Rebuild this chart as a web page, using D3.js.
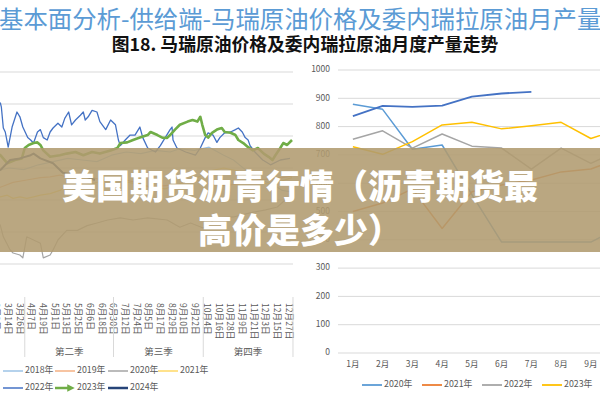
<!DOCTYPE html>
<html><head><meta charset="utf-8">
<script src="https://cdn.jsdelivr.net/npm/d3@7"></script>
<style>
html,body{margin:0;padding:0;background:#fff;overflow:hidden}
svg{display:block;font-family:"Noto Sans CJK SC","Noto Sans",sans-serif}
</style></head><body>
<svg id="c" width="600" height="400"></svg>
<script>
// ---------- texts ----------
const mainTitle = "基本面分析-供给端-马瑞原油价格及委内瑞拉原油月产量";
const subTitle = "图18. 马瑞原油价格及委内瑞拉原油月度产量走势";
const bannerLines = ["美国期货沥青行情（沥青期货最", "高价是多少）"];

// ---------- left chart: Merey price by day of year ----------
const leftTickLabels = ["1月1日","1月13日","1月25日","2月6日","2月18日","3月2日","3月14日","3月26日","4月7日","4月19日","5月1日","5月13日","5月25日","6月6日","6月18日","6月30日","7月12日","7月24日","8月5日","8月17日","8月29日","9月10日","9月22日","10月4日","10月16日","10月28日","11月9日","11月21日","12月3日","12月15日","12月27日"];
const quarterLabels = ["第一季","第二季","第三季","第四季"];
const leftYTicks = [0,20,40,60,80,100,120];
const leftYears = ["2018年","2019年","2020年","2021年","2022年","2023年","2024年"];
// [day of year, price]
const p2018 = [[60,58],[75,60],[90,59],[105,62],[120,64],[135,66],[150,65],[165,64],[180,68],[195,70],[210,69],[225,71],[240,70],[250,72],[265,71],[280,73],[295,68],[305,65],[315,60],[325,56],[335,52],[345,50],[355,46],[365,45]];
const p2019 = [[60,47],[66,48],[79,51],[93,52.5],[107,54],[117,54.4],[127,55.6],[134,54.4],[148,57],[160,54],[175,52],[190,53],[205,51],[220,48],[235,49],[250,50],[265,53],[280,50],[295,49],[310,50],[325,52],[340,53],[355,54],[365,55]];
const p2020 = [[60,30],[66,24],[69,17],[76,8.8],[79,6.9],[86,5.6],[89,3.8],[93,17],[100,15],[107,13],[110,3.8],[117,5.6],[120,8.8],[125,15],[134,21],[145,21],[155,24],[165,25.6],[176,27.5],[189,28.8],[202,27.5],[217,28.8],[237,27.5],[250,23],[261,25.6],[274,22.5],[288,28.8],[305,29.4],[322,32],[338,33.8],[350,35.6],[358,40],[365,43]];
const p2021 = [[60,43],[66,42],[73,43],[79,41],[86,42],[93,41],[100,42],[107,43],[117,44],[127,46],[134,49],[145,48],[160,50],[175,53],[190,52],[205,50],[220,48],[235,47],[250,50],[265,53],[280,58],[295,60],[310,58],[325,52],[340,50],[355,52],[365,54]];
const p2022 = [[60,98],[66,100.6],[67,98],[69,85],[71,82.5],[74,73],[78,85.6],[83,95],[86,92],[89,85.6],[94,79],[97,77.5],[100,75.6],[104,82.5],[107,84],[110,79],[114,77.5],[117,82.5],[120,85],[125,88],[129,85.6],[132,91],[136,95],[139,87],[143,90],[148,93],[151,95],[153,90],[156,92],[160,96],[165,95],[168,89],[174,84],[179,90],[184,87],[187,77.5],[189,74],[194,77.5],[199,80.6],[204,80.6],[209,85.6],[212,79],[217,72.5],[225,70],[230,74],[235,79],[240,84],[242,85.6],[243,77.5],[247,72.5],[256,70],[266,68],[271,72.5],[276,79],[279,82],[284,80.6],[288,76],[291,79],[296,82],[302,82.5],[307,84],[310,85],[314,82.5],[317,79],[320,77.5],[322,74],[327,70],[335,65],[343,62],[353,65],[363,66]];
const p2023 = [[60,70],[66,68],[73,63],[81,65],[88,66],[91,72.5],[95,74.4],[100,75.6],[104,76],[107,74.4],[110,71],[117,67],[127,68],[134,69],[143,70],[151,68],[160,70],[168,69],[179,71],[186,72.5],[189,75.6],[196,76],[202,77.5],[209,79],[217,80.6],[220,82.5],[227,80.6],[232,79],[237,78.8],[240,80.6],[245,84],[250,87],[258,89],[263,90],[268,89],[271,92],[273,87],[276,80.6],[279,79],[283,82],[288,84],[293,85],[296,82.5],[302,82],[307,80.6],[310,77.5],[315,75.6],[320,73],[325,71],[330,72.5],[336,69],[341,67],[345,65],[348,68],[353,72.5],[356,75.6],[360,74.4],[365,77.5]];
const p2024 = [[60,57],[66,58.8],[69,60.6],[76,65],[86,66],[97,68],[100,69],[107,66],[120,63],[130,57],[145,55.6],[155,54.4],[163,52.5]];
const leftSeries = [p2018,p2019,p2020,p2021,p2022,p2023,p2024];
const leftColors = ["#9dc3e6","#f4b183","#a5a5a5","#ffd966","#4472c4","#70ad47","#264478"];
const leftWidths = [1.2,1.2,1.2,1.2,1.3,2.6,2];

// ---------- right chart: Venezuela monthly output ----------
const months = ["1月","2月","3月","4月","5月","6月","7月","8月","9月","10月","11月","12月"];
const rightYTicks = [0,100,200,300,400,500,600,700,800,900,1000];
const rightYears = ["2020年","2021年","2022年","2023年","2024年"];
const o2020 = [879,861,720,735,560,392,392,392,392,445];
const o2021 = [500,530,580,440,570,594,611,640,650,690];
const o2022 = [755,785,724,774,731,724,650,724,670,720];
const o2023 = [729,702,747,806,815,792,803,815,758,792];
const o2024 = [837,873,870,874,906,917,923];
const rightSeries = [o2020,o2021,o2022,o2023,o2024];
const rightColors = ["#5b9bd5","#ed7d31","#a5a5a5","#ffc000","#4472c4"];

const svg = d3.select("#c");
const grid = "#d9d9d9", txt = "#595959";

// titles
svg.append("text").attr("x",-1).attr("y",28).attr("font-size",24.4).attr("fill","#5b9bd5").text(mainTitle);
svg.append("text").attr("x",305).attr("y",51).attr("text-anchor","middle").attr("font-size",17.8).attr("font-weight",700).attr("fill","#111").text(subTitle);

// ----- left chart -----
const day = d => new Date(2021,0,d);
const xL = d3.scaleTime().domain([day(1), day(365)]).range([-63, 292]);
const yL = d3.scaleLinear().domain([0,120]).range([264,72]);
const gL = svg.append("g");
gL.selectAll("line.g").data(leftYTicks).join("line")
  .attr("x1",-70).attr("x2",293).attr("y1",d=>yL(d)).attr("y2",d=>yL(d))
  .attr("stroke",grid).attr("stroke-width",1);

const parseLbl = s => { const m = s.match(/(\d+)月(\d+)日/); return new Date(2021,+m[1]-1,+m[2]); };
gL.selectAll("text.t").data(leftTickLabels).join("text")
  .attr("transform",d=>`translate(${xL(parseLbl(d))},303) rotate(90)`)
  .attr("dominant-baseline","middle").attr("font-size",8.6).attr("fill",txt).text(d=>d);
const qBounds = [day(1), new Date(2021,3,1), new Date(2021,6,1), new Date(2021,9,1), new Date(2022,0,1)];
gL.selectAll("line.q").data(qBounds).join("line")
  .attr("x1",d=>xL(d)).attr("x2",d=>xL(d)).attr("y1",297).attr("y2",357)
  .attr("stroke",grid).attr("stroke-width",1);
gL.selectAll("text.q").data(quarterLabels).join("text")
  .attr("x",(d,i)=>(xL(qBounds[i])+xL(qBounds[i+1]))/2).attr("y",355)
  .attr("text-anchor","middle").attr("font-size",9.5).attr("fill",txt).text(d=>d);

const defs = svg.append("defs");
defs.append("marker").attr("id","arr").attr("viewBox","0 0 10 10").attr("refX",5).attr("refY",5)
  .attr("markerWidth",3).attr("markerHeight",3).attr("orient","auto")
  .append("path").attr("d","M0,0L10,5L0,10z").attr("fill","#70ad47");

const lineL = d3.line().x(d=>xL(day(d[0]))).y(d=>yL(d[1]));
leftSeries.forEach((s,i)=>{
  gL.append("path").attr("d",lineL(s)).attr("fill","none")
    .attr("stroke",leftColors[i]).attr("stroke-width",leftWidths[i]).attr("stroke-linejoin","round");
});

// left legend
const legPos = [[3,371],[55,371],[108,371],[158,371],[3,388],[55,388],[108,388]];
leftYears.forEach((y,i)=>{
  const [lx,ly] = legPos[i];
  const ln = svg.append("line").attr("x1",lx).attr("x2",lx+20).attr("y1",ly).attr("y2",ly)
    .attr("stroke",leftColors[i]).attr("stroke-width", i>=5?2.5:1.5);
  if(i===5) ln.attr("x2",lx+16).attr("marker-end","url(#arr)");
  svg.append("text").attr("x",lx+22).attr("y",ly).attr("dominant-baseline","middle")
    .attr("font-size",8.8).attr("fill",txt).text(y);
});

// ----- right chart -----
const xR = d3.scaleBand().domain(months).range([338, 338+12*29.75]);
const yR = d3.scaleLinear().domain([0,1000]).range([353,70]);
const gR = svg.append("g");
gR.selectAll("line.g").data(rightYTicks).join("line")
  .attr("x1",338).attr("x2",700).attr("y1",d=>yR(d)).attr("y2",d=>yR(d))
  .attr("stroke",grid).attr("stroke-width",1);
gR.selectAll("text.y").data(rightYTicks).join("text")
  .attr("x",330).attr("y",d=>yR(d)).attr("text-anchor","end").attr("dominant-baseline","middle")
  .attr("font-size",8.5).attr("fill",txt).text(d=>d);
gR.selectAll("text.m").data(months).join("text")
  .attr("x",d=>xR(d)+xR.bandwidth()/2).attr("y",365).attr("text-anchor","middle").attr("dominant-baseline","middle")
  .attr("font-size",8.5).attr("fill",txt).text(d=>d);
const lineR = d3.line().x((d,i)=>xR(months[i])+xR.bandwidth()/2).y(d=>yR(d));
rightSeries.forEach((s,i)=>{
  gR.append("path").attr("d",lineR(s)).attr("fill","none").attr("stroke",rightColors[i])
    .attr("stroke-width",i===4?1.8:1.5).attr("stroke-linejoin","round");
});
rightYears.forEach((y,i)=>{
  const lx = 362 + i*60, ly = 385;
  svg.append("line").attr("x1",lx).attr("x2",lx+20).attr("y1",ly).attr("y2",ly)
    .attr("stroke",rightColors[i]).attr("stroke-width",1.8);
  svg.append("text").attr("x",lx+22).attr("y",ly).attr("dominant-baseline","middle")
    .attr("font-size",8.8).attr("fill",txt).text(y);
});

// ----- banner overlay -----
svg.append("rect").attr("x",0).attr("y",148).attr("width",600).attr("height",104)
  .attr("fill","rgb(176,155,112)").attr("fill-opacity",0.88);
bannerLines.forEach((t,i)=>{
  svg.append("text").attr("x",300).attr("y",199+i*44).attr("text-anchor","middle")
    .attr("font-size",34).attr("font-weight",900).attr("fill","#fff").text(t);
});
</script></body></html>
